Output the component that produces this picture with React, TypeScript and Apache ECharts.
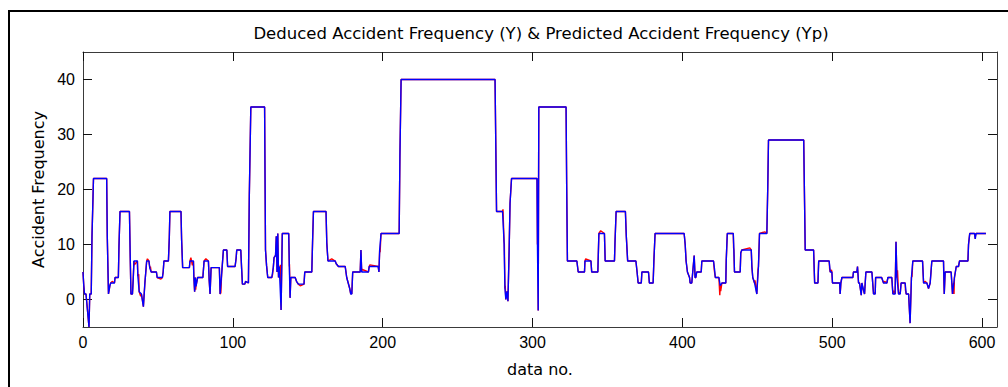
import React, { useEffect, useRef } from "react";
import * as echarts from "echarts";

const titleText = "Deduced Accident Frequency (Y) & Predicted Accident Frequency (Yp)";
const xName = "data no.";
const yName = "Accident Frequency";
const xTicks = [0, 100, 200, 300, 400, 500, 600];
const yTicks = [0, 10, 20, 30, 40];

// Predicted accident frequency (Yp), breakpoints: [data no., value]
const predictedYp: [number, number][] = [
  [0, 5], [0.5, 2.6], [1, 1], [2, 1], [3, -2], [4, -5], [4.5, 1], [5.5, 1], [6, 11.5], [7, 22],
  [15.8, 22], [16.2, 11.5], [17, 1], [18, 2.6], [18.5, 3], [21, 3], [21.4, 4], [23.6, 4], [24, 9.6], [24.7, 16],
  [31, 16], [31.5, 8], [32, 1], [33, 1], [33.5, 3.6], [34, 7], [36.3, 7], [36.6, 4.3], [37.5, 1.4], [39, 1],
  [40.3, -1.3], [41.3, 3], [42.5, 7], [44, 7], [44.6, 5.7], [45.5, 5], [49, 5], [49.5, 4], [53, 4], [53.5, 5],
  [54, 7], [57, 7], [57.6, 11.2], [58, 16], [65.4, 16], [65.8, 11], [66.5, 5.8], [71, 5.8], [71.4, 7], [73.7, 7],
  [74, 4], [74.5, 1.4], [75, 4], [75.4, 2.4], [76.5, 4], [80, 4], [80.8, 7], [83.7, 7], [84.2, 3.6], [84.8, 1],
  [85.5, 5.8], [91, 5.8], [91.5, 1], [92.5, 4.5], [93.7, 9], [96, 9], [96.5, 6], [101.5, 6], [102.2, 7.5], [102.6, 9],
  [105.3, 9], [105.8, 6], [106.4, 2.8], [108, 2.8], [108.5, 3.3], [110.4, 3], [111, 19], [112, 35], [121.2, 35], [121.5, 22],
  [121.8, 9], [122.5, 6.2], [123.3, 4], [126, 4], [127, 5.8], [127.5, 7.6], [128.5, 8], [129, 11.5], [129.5, 5], [130, 12],
  [130.5, 4], [131, 6], [132.2, -1.9], [133, 12], [137.3, 12], [137.7, 6], [138.2, 0.3], [138.7, 4], [141.6, 4], [142.5, 3.3],
  [143.7, 2.8], [147.5, 2.8], [148, 5], [152.7, 5], [153.2, 10.3], [153.8, 16], [162.2, 16], [162.7, 10.3], [163.5, 7], [168.3, 7],
  [169, 6.5], [170.5, 6], [175, 6], [176, 4], [177, 3], [178, 2], [178.7, 1], [179.4, 1], [180, 5], [185, 5],
  [185.5, 9], [186, 5], [190.5, 5], [191, 6], [197, 6], [197.5, 5], [198, 9], [198.9, 12], [211, 12], [211.5, 26],
  [212.3, 40], [275, 40], [275.5, 28], [276, 16], [280, 16], [281, 10.5], [281.6, 2], [282.2, 0], [283, 1.5], [283.6, -0.3],
  [284.4, 9], [285, 17.5], [286, 22], [303, 22], [303.3, 10], [303.8, -2], [304.2, 35], [322.4, 35], [322.8, 21], [323.3, 7],
  [329.6, 7], [330.5, 5], [334.7, 5], [335, 7], [339, 7], [339.5, 5], [343.6, 5], [344.3, 12], [348, 12], [348.5, 7],
  [354.7, 7], [355, 10], [355.8, 16], [362, 16], [362.6, 11.5], [363.5, 7], [369, 7], [369.8, 5], [370.5, 3], [372.6, 3],
  [373, 5], [377.4, 5], [378, 3], [380.5, 3], [381, 7], [381.8, 12], [401.2, 12], [401.9, 10], [402.5, 7], [403.4, 5],
  [404.8, 4], [405.2, 3], [406.3, 3], [407.9, 8], [408.5, 4], [409, 4], [409.6, 5], [412.6, 5], [413, 7], [420.8, 7],
  [421.5, 5.5], [422, 4], [424.4, 4], [425.3, 2.5], [426.4, 3], [429, 3], [429.3, 7.2], [430, 12], [434, 12], [434.4, 9],
  [434.8, 5], [438.6, 5], [439, 8.5], [439.7, 9], [446, 9], [446.4, 6], [447, 4], [448.2, 3], [449.7, 1], [450.8, 6],
  [451.5, 12], [456.4, 12], [457, 20.3], [457.5, 29], [481, 29], [481.5, 19], [482, 9], [487.6, 9], [488.3, 3], [490.5, 3],
  [491, 7], [498, 7], [498.7, 5], [499.8, 5], [500.2, 3], [505, 3], [505.3, 1], [505.8, 3], [506.5, 4], [513.8, 4],
  [514.2, 5], [516.5, 5], [516.9, 6], [517.6, 3], [518.2, 3], [519.4, 0.8], [519.8, 3], [521.6, 1], [522.5, 5], [526.5, 5],
  [527.6, 1], [528.7, 1], [529, 4], [533, 4], [534.3, 3], [536.5, 3], [537.2, 4], [539.8, 4], [540.5, 1], [542, 1],
  [542.6, 10.5], [543.2, 4], [544.3, 1], [545.4, 1], [546, 3], [548.7, 3], [549.4, 1], [551, 1], [552, -4.3], [552.9, 4],
  [553.8, 7], [560.3, 7], [561, 3], [563.2, 3], [564.3, 2], [565.4, 3], [566.5, 7], [574.3, 7], [574.8, 1], [575.4, 5],
  [579.4, 5], [580.3, 1], [581.6, 4], [582.8, 6], [584.3, 6], [585, 7], [590.6, 7], [591, 10], [591.8, 12], [595, 12],
  [595.5, 11], [596, 12], [602.6, 12],
];

// Deduced accident frequency (Y): where it departs from Yp (visible red), [data no., value]
const deducedOverrides: [number, number][] = [
  [19.5, 3.3], [34.3, 6.3], [37.2, 4.6], [38.5, 0.6], [43, 7.4], [45, 6.0], [52, 3.7], [72, 7.6], [73, 6.2], [75.2, 1.8],
  [82, 7.4], [92, 1.2], [126.5, 4.5], [131.4, 4.2], [131.7, 6.3], [132.6, 5.2], [137.8, 6.4], [145, 2.5], [166, 7.4], [179, 1.6],
  [186, 5.5], [191.5, 6.3], [198.3, 8.6], [280.3, 16.4], [281.2, 10.1], [281.8, 2.5], [303.5, 17.8], [303.6, 16.5], [335.5, 7.4], [345.5, 12.5],
  [408.2, 6.2], [421.3, 5.4], [425.0, 0.8], [425.6, 1.5], [434.2, 9.4], [445, 9.4], [448.5, 3.5], [450.5, 5.5], [455, 12.3], [498.3, 5.6],
  [499.5, 5.4], [505.6, 2.0], [518.6, 2.4], [520.5, 2.0], [527.9, 1.3], [535, 3.3], [541, 1.6], [542.3, 6.2], [543.6, 5.3], [545, 1.3],
  [548.9, 1.7], [553.3, 4.2], [562, 3.3], [574.5, 3.6], [581, 3.0], [581.3, 1.0], [595.5, 11.4],
];

const deducedY: [number, number][] = [...predictedYp, ...deducedOverrides].sort((a, b) => a[0] - b[0]);

const TICK_FONT = "Liberation Sans";
const TEXT_FONT = "DejaVu Sans";
const AXIS_COLOR = "#3a3a3a";

export default function App() {
  const ref = useRef<HTMLDivElement>(null);
  useEffect(() => {
    if (!ref.current) return;
    const chart = echarts.init(ref.current, undefined, { renderer: "svg" });
    const baseX = {
      type: "value" as const,
      min: 0,
      max: 610,
      splitLine: { show: false },
      axisLine: { show: true, onZero: false, lineStyle: { color: AXIS_COLOR, width: 1 } },
      axisTick: { show: true, inside: true, length: 9, customValues: xTicks, lineStyle: { color: "#111", width: 1 } },
    };
    const baseY = {
      type: "value" as const,
      min: -5,
      max: 45,
      splitLine: { show: false },
      axisLine: { show: true, onZero: false, lineStyle: { color: AXIS_COLOR, width: 1 } },
      axisTick: { show: true, inside: true, length: 9, customValues: yTicks, lineStyle: { color: "#111", width: 1 } },
    };
    chart.setOption({
      animation: false,
      backgroundColor: "#ffffff",
      title: {
        text: titleText,
        left: 536,
        textAlign: "center",
        top: 20,
        textStyle: { fontFamily: TEXT_FONT, fontSize: 16.5, fontWeight: "normal", color: "#000" },
      },
      grid: { left: 83, right: 11, top: 52, bottom: 60, containLabel: false },
      xAxis: [
        {
          ...baseX,
          position: "bottom",
          name: xName,
          nameLocation: "middle",
          nameGap: 34,
          nameTextStyle: { fontFamily: TEXT_FONT, fontSize: 16, color: "#000" },
          axisLabel: {
            show: true,
            customValues: xTicks,
            margin: 7,
            fontFamily: TICK_FONT,
            fontSize: 16,
            color: "#000",
          },
        },
        { ...baseX, position: "top", axisLabel: { show: false } },
      ],
      yAxis: [
        {
          ...baseY,
          position: "left",
          name: yName,
          nameLocation: "middle",
          nameGap: 25,
          nameRotate: 90,
          nameTextStyle: { fontFamily: TEXT_FONT, fontSize: 16, color: "#000" },
          axisLabel: {
            show: true,
            customValues: yTicks,
            margin: 8,
            fontFamily: TICK_FONT,
            fontSize: 16,
            color: "#000",
          },
        },
        { ...baseY, position: "right", axisLabel: { show: false } },
      ],
      graphic: [
        {
          type: "rect",
          shape: { x: 9, y: 11, width: 1200, height: 600 },
          style: { fill: "none", stroke: "#000", lineWidth: 2 },
          silent: true,
        },
      ],
      series: [
        {
          name: "Y",
          type: "line",
          data: deducedY,
          showSymbol: false,
          symbol: "none",
          lineStyle: { color: "#ff0000", width: 1.4 },
          itemStyle: { color: "#ff0000" },
          xAxisIndex: 0,
          yAxisIndex: 0,
          z: 2,
        },
        {
          name: "Yp",
          type: "line",
          data: predictedYp,
          showSymbol: false,
          symbol: "none",
          lineStyle: { color: "#0000ff", width: 1.4 },
          itemStyle: { color: "#0000ff" },
          xAxisIndex: 0,
          yAxisIndex: 0,
          z: 3,
        },
      ],
    });
    return () => chart.dispose();
  }, []);
  return (
    <div
      ref={ref}
      style={{ position: "fixed", left: 0, top: 0, width: 1008, height: 387, background: "#fff" }}
    />
  );
}
